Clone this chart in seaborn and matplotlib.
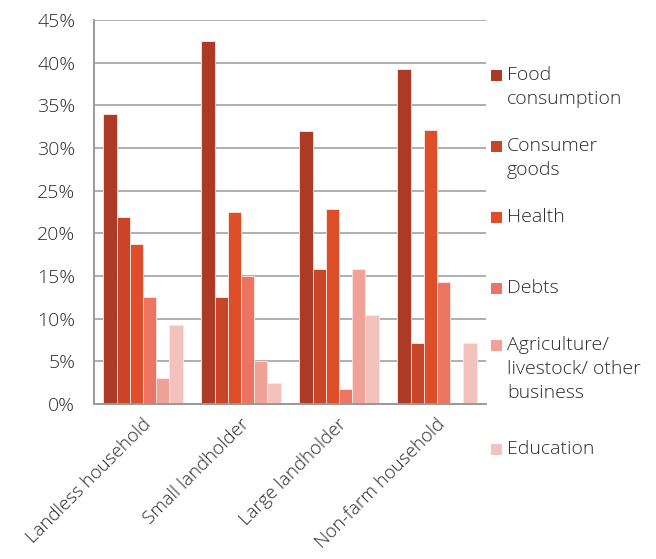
import matplotlib
matplotlib.use("Agg")
import matplotlib.pyplot as plt
import matplotlib.patches as mpatches
import seaborn as sns
import pandas as pd

groups = ["Landless household", "Small landholder", "Large landholder", "Non-farm household"]
series = ["Food\nconsumption", "Consumer\ngoods", "Health", "Debts",
          "Agriculture/\nlivestock/ other\nbusiness", "Education"]
food = [34.0, 42.5, 32.0, 39.3]
consumer = [21.9, 12.5, 15.8, 7.1]
health = [18.8, 22.5, 22.8, 32.1]
debts = [12.5, 15.0, 1.7, 14.3]
agriculture = [3.0, 5.0, 15.8, 0.0]
education = [9.3, 2.5, 10.4, 7.1]
colors = ["#AD3A25", "#C84528", "#DE4E28", "#EB7462", "#F0A298", "#F3C2BD"]
yticks = [0, 5, 10, 15, 20, 25, 30, 35, 40, 45]

values = [food, consumer, health, debts, agriculture, education]
df = pd.DataFrame([
    {"group": g, "series": s, "value": v}
    for s, vals in zip(series, values)
    for g, v in zip(groups, vals)
])

sns.set_style("white")
plt.rcParams["font.family"] = ["Open Sans", "DejaVu Sans"]
FS = 14
TXT = "#2b2b2b"

fig = plt.figure(figsize=(6.56, 5.59), dpi=100)
ax = fig.add_axes([94 / 656, 1 - 404 / 559, (486 - 94) / 656, (404 - 20) / 559])

sns.barplot(data=df, x="group", y="value", hue="series", order=groups,
            hue_order=series, palette=colors, width=0.81, saturation=1,
            edgecolor="#fbe9e6", linewidth=0.6, legend=False, ax=ax)

ax.set_ylim(0, 45)
ax.set_xlim(-0.5, len(groups) - 0.5)
ax.set_yticks(yticks)
ax.set_yticklabels([f"{t}%" for t in yticks], fontsize=FS, color=TXT,
                   fontweight="light")
ax.yaxis.grid(True, color="#9a9a9a", linewidth=1.1)
ax.set_axisbelow(True)
ax.set_xlabel("")
ax.set_ylabel("")

for side in ["top", "right"]:
    ax.spines[side].set_visible(False)
for side in ["left", "bottom"]:
    ax.spines[side].set_color("#999999")
    ax.spines[side].set_linewidth(1.4)

ax.tick_params(axis="y", direction="out", length=5, width=1.1, color="#999999", pad=8.5)
# category ticks sit on group boundaries, labels at group centres
ax.set_xticks([i - 0.5 for i in range(len(groups) + 1)])
ax.set_xticklabels([])
ax.tick_params(axis="x", direction="out", length=6, width=1.1, color="#999999")
for i, g in enumerate(groups):
    ax.annotate(g, xy=(i + 0.05, 0), xycoords=("data", "axes fraction"),
                xytext=(0, -13), textcoords="offset points",
                rotation=45, rotation_mode="anchor", ha="right", va="center",
                fontsize=13.5, color=TXT, fontweight="light")

# legend drawn in figure pixels
legend_y = [75, 146, 217, 288, 345, 449]
for lab, col, y in zip(series, colors, legend_y):
    fig.patches.append(mpatches.Rectangle(
        (491 / 656, 1 - (y + 6) / 559), 11 / 656, 11 / 559,
        transform=fig.transFigure, facecolor=col, edgecolor="none"))
    fig.text(507 / 656, 1 - (y - 9) / 559, lab, ha="left", va="top",
             fontsize=FS, color=TXT, linespacing=1.42, fontweight="light")

fig.savefig("out.png", dpi=100)
